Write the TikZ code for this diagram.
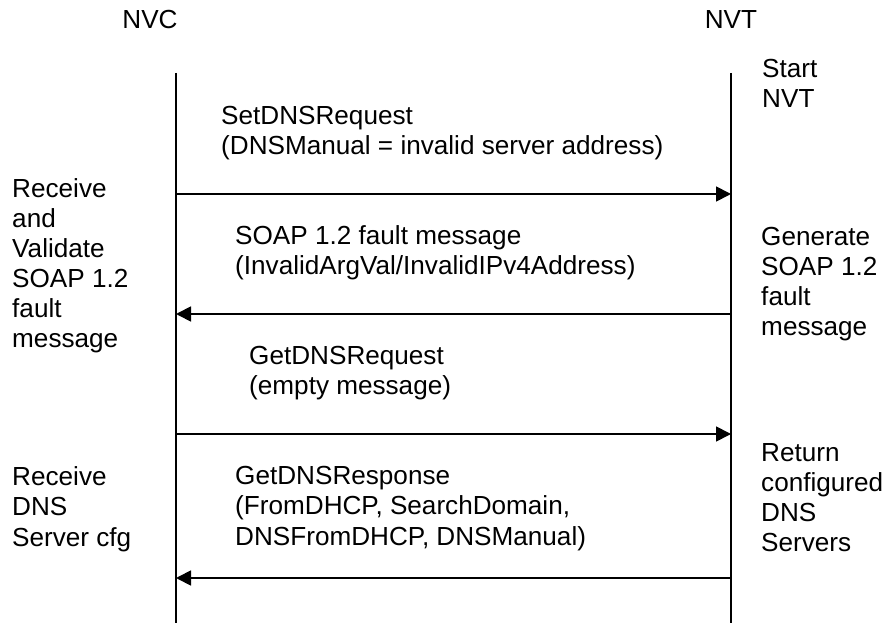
\documentclass[tikz,border=0pt]{standalone}
\usepackage{fontspec}
\setmainfont{Liberation Sans}
\usetikzlibrary{arrows.meta, positioning}

\begin{document}
\begin{tikzpicture}[x=0.03cm, y=-0.03cm,
		every node/.style={inner sep=0pt, align=left, anchor=base west,
			font=\fontsize{22.3}{25.7}\selectfont},
		msg/.style={-{Triangle[length=0.45cm, width=0.45cm]}, line width=1.5pt},
		life/.style={line width=1.5pt}]
			\useasboundingbox (0,0) rectangle (887,626);
			% lifelines
			\node[anchor=base] (nvc) at (150,29) {NVC};
			\node[anchor=base] (nvt) at (731,29) {NVT};
			\coordinate (nvctop) at (176,73);
			\coordinate (nvcbot) at (176,623);
			\coordinate (nvttop) at (731,73);
			\coordinate (nvtbot) at (731,623);
			\draw[life] (nvctop) -- (nvcbot);
			\draw[life] (nvttop) -- (nvtbot);
			
			% messages
			\coordinate (c1) at (176,194);  \coordinate (t1) at (731,194);
			\coordinate (c2) at (176,314);  \coordinate (t2) at (731,314);
			\coordinate (c3) at (176,434);  \coordinate (t3) at (731,434);
			\coordinate (c4) at (176,578);  \coordinate (t4) at (731,578);
			\draw[msg] (c1) -- (t1);
			\draw[msg] (t2) -- (c2);
			\draw[msg] (c3) -- (t3);
			\draw[msg] (t4) -- (c4);
			
			% (base = last line)
			\node (setreq) at (221,155) {SetDNSRequest\\(DNSManual = invalid server address)};
			\node (fault) at (235,275) {SOAP 1.2 fault message\\(InvalidArgVal/InvalidIPv4Address)};
			\node (getreq) at (249,395) {GetDNSRequest\\(empty message)};
			\node (getresp) at (235,545) {GetDNSResponse\\(FromDHCP, SearchDomain,\\DNSFromDHCP, DNSManual)};
			
			% actions
			\node (start) at (762,108) {Start\\NVT};
			\node (validate) at (12,348) {Receive\\and\\Validate\\SOAP 1.2\\fault\\message};
			\node (generate) at (761,336) {Generate\\SOAP 1.2\\fault\\message};
			\node (recvcfg) at (12,546) {Receive\\DNS\\Server cfg};
			\node (retcfg) at (761,552) {Return\\configured\\DNS\\Servers};
		\end{tikzpicture}
\end{document}
